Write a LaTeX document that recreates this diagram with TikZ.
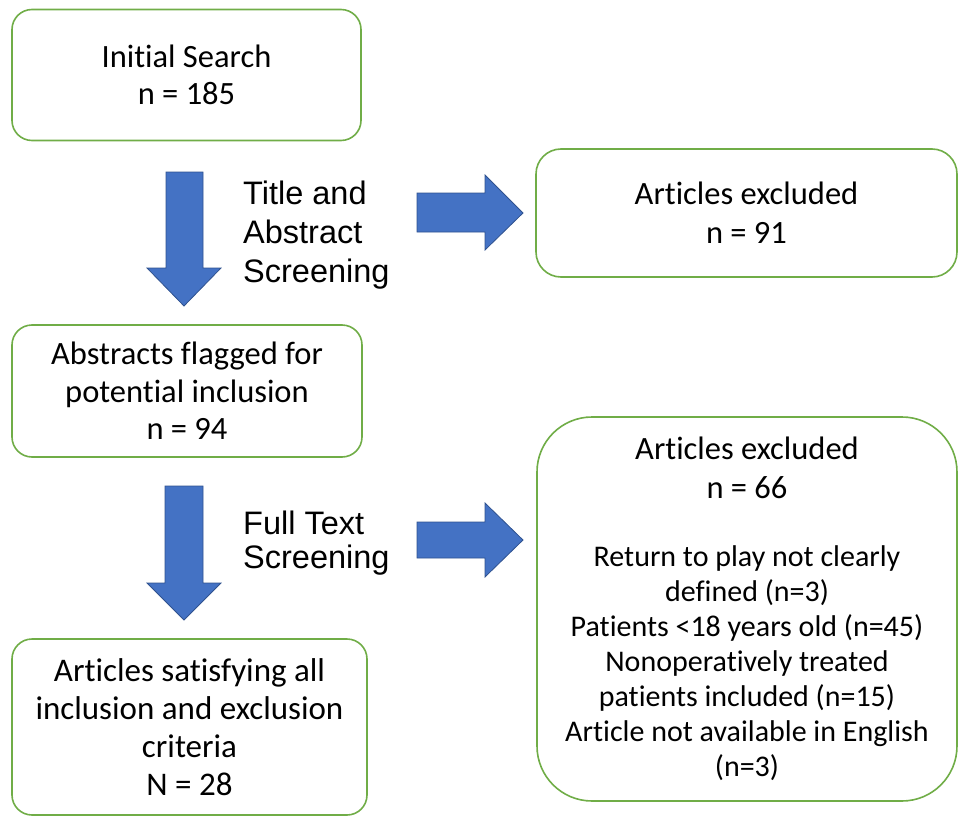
\documentclass[tikz,border=0pt]{standalone}
\usepackage{fontspec}
\setmainfont{Carlito}[Ligatures={NoCommon}]
\newfontfamily\arialf{Liberation Sans}
\definecolor{boxgreen}{HTML}{70AD47}
\definecolor{arrowblue}{HTML}{4472C4}
\definecolor{arrowedge}{HTML}{2F528F}
\begin{document}
\begin{tikzpicture}[x=1pt,y=-1pt,
  box/.style={draw=boxgreen, line width=1.6pt, rounded corners=20pt, fill=white,
              align=center, inner sep=0pt, font=\fontsize{32.5}{37.5}\selectfont},
  lbl/.style={font=\arialf\fontsize{32.5}{39}\selectfont, align=left, anchor=west, inner sep=0pt},
  barrow/.style={fill=arrowblue, draw=arrowedge, line width=0.8pt, line join=miter}]
\useasboundingbox (0,0) rectangle (959,816);

% boxes
\node[box, minimum width=349pt, minimum height=131pt] (init) at (186.5,75)
  {Initial Search\\n = 185};
\node[box, rounded corners=25pt, minimum width=421pt, minimum height=128pt] (excl1) at (746.5,213)
  {Articles excluded\\[1.5pt]n = 91};
\node[box, minimum width=350pt, minimum height=132pt] (flag) at (187,391)
  {Abstracts flagged for\\potential inclusion\\n = 94};
\node[box, rounded corners=55pt, minimum width=420pt, minimum height=384pt,
      text width=420pt, align=flush center] (excl2) at (747,609)
  {{\fontsize{32.5}{39}\selectfont Articles excluded\\n = 66\par}
   \vspace{33pt}
   \fontsize{30}{35}\selectfont
   Return to play not clearly\\defined (n=3)\\Patients <18 years old (n=45)\\
   Nonoperatively treated\\patients included (n=15)\\Article not available in English\\(n=3)\par};
\node[box, minimum width=355pt, minimum height=176pt,
      font=\fontsize{33}{38}\selectfont] (final) at (189.5,727)
  {Articles satisfying all\\inclusion and exclusion\\criteria\\N = 28};

% labels
\node[lbl] (tas) at (243,235) {Title and\\Abstract\\Screening};
\node[lbl, font=\arialf\fontsize{32.5}{34}\selectfont] (fts) at (243,543) {Full Text\\Screening};

% block arrows
\draw[barrow] (166,172) -- (203,172) -- (203,268) -- (221,268) -- (184,306)
  -- (147,268) -- (166,268) -- cycle;
\draw[barrow] (417,193) -- (485,193) -- (485,175) -- (523,213) -- (485,250)
  -- (485,232) -- (417,232) -- cycle;
\draw[barrow] (165,486) -- (203,486) -- (203,583) -- (221,583) -- (184,620)
  -- (147,583) -- (165,583) -- cycle;
\draw[barrow] (417,522) -- (485,522) -- (485,503) -- (523,540) -- (485,577)
  -- (485,558) -- (417,558) -- cycle;
\end{tikzpicture}
\end{document}
